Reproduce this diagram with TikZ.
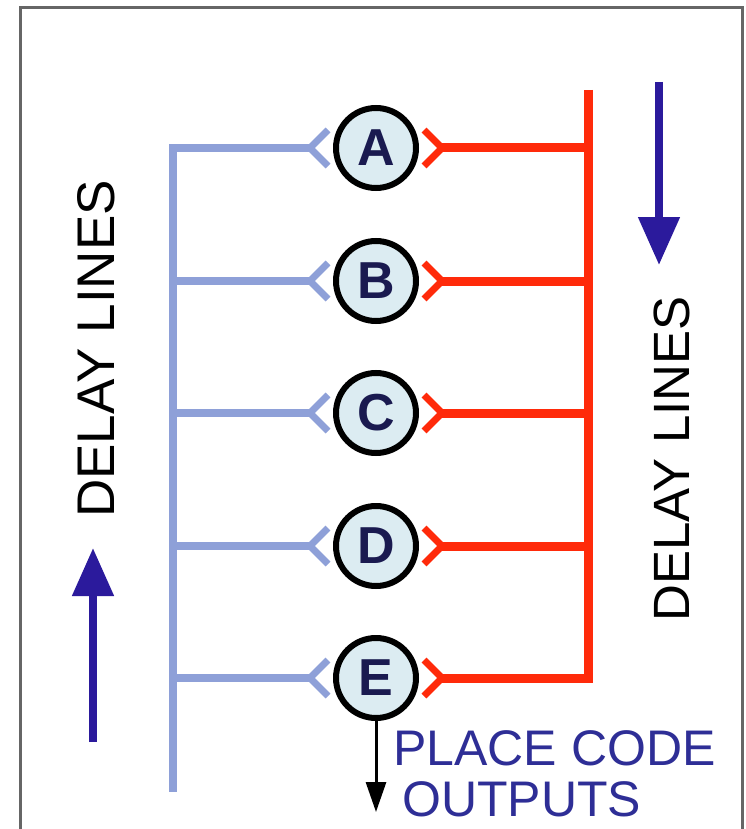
\documentclass[tikz,border=0pt]{standalone}
\usepackage{fontspec}
\setmainfont{Liberation Sans}
\usetikzlibrary{arrows.meta,calc}
\definecolor{lblue}{HTML}{8EA0D8}
\definecolor{rred}{HTML}{FF2A0A}
\definecolor{dblue}{HTML}{2B1A9C}
\definecolor{tblue}{HTML}{2E2E96}
\definecolor{cfill}{HTML}{DCECF2}
\definecolor{letter}{HTML}{1A1A50}
\definecolor{frame}{HTML}{666666}
\tikzset{
  plate/.style={circle, draw=black, line width=6pt, fill=cfill, minimum size=80pt,
    inner sep=0pt, text=letter, font=\bfseries\fontsize{52}{52}\selectfont},
  blueline/.style={draw=lblue, line width=8pt},
  redline/.style={draw=rred, line width=9pt},
  bluefork/.style={draw=lblue, line width=7pt},
  redfork/.style={draw=rred, line width=7pt},
  bigarrow/.style={draw=dblue, line width=8pt, -{Triangle[width=40pt,length=48pt]}},
  outarrow/.style={draw=black, line width=3pt, -{Triangle[width=20pt,length=30pt]}},
  vlabel/.style={rotate=90, text=black, inner sep=0pt},
  outlabel/.style={anchor=base west, font=\fontsize{50}{50}\selectfont, text=tblue, inner sep=0pt, text depth=0pt}
}
\begin{document}
\begin{tikzpicture}[x=1pt,y=-1pt]
\useasboundingbox (0,0) rectangle (746,829);
\fill[white] (0,0) rectangle (746,829);
% frame
\draw[frame, line width=3pt] (20,829) -- (20,8) -- (742,8) -- (742,829);
% circles
\foreach \n/\yy in {A/148,B/281,C/413,D/546,E/678}{
  \node[plate] (\n) at (376,\yy) {\n};
  \coordinate (\n bv) at ($(\n)+(-66,0)$);
  \coordinate (\n rv) at ($(\n)+(66,0)$);
  \coordinate (\n bl) at (173,\yy);
  \coordinate (\n rr) at (588,\yy);
}
\coordinate (btop) at (173,148);
\coordinate (bbot) at (173,792);
\coordinate (rtop) at (588,90);
% blue delay line
\draw[blueline] (Abv) -- (btop) -- (bbot);
\foreach \n in {B,C,D,E}{ \draw[blueline] (\n bl) -- (\n bv); }
% red delay line
\draw[redline] (rtop) -- (Err) -- (Erv);
\foreach \n in {A,B,C,D}{ \draw[redline] (\n rr) -- (\n rv); }
% forks
\foreach \n in {A,B,C,D,E}{
  \draw[bluefork] ($(\n)+(-48,-18)$) -- (\n bv) -- ($(\n)+(-48,18)$);
  \draw[redfork] ($(\n)+(48,-18)$) -- (\n rv) -- ($(\n)+(48,18)$);
}
% direction arrows
\coordinate (ra1) at (659,82);
\coordinate (ra2) at (659,265);
\coordinate (la1) at (93,742);
\coordinate (la2) at (93,548);
\draw[bigarrow] (ra1) -- (ra2);
\draw[bigarrow] (la1) -- (la2);
% labels
\node[vlabel, font=\fontsize{53}{53}\selectfont] (ldl) at (96,349) {DELAY LINES};
\node[vlabel, font=\fontsize{51}{51}\selectfont] (rdl) at (672,459) {DELAY LINES};
% output
\coordinate (out) at (376,812);
\draw[outarrow] (E.south) -- (out);
\node[outlabel] (pc) at (393,765) {PLACE CODE};
\node[outlabel] (op) at (402,816) {OUTPUTS};
\end{tikzpicture}
\end{document}
